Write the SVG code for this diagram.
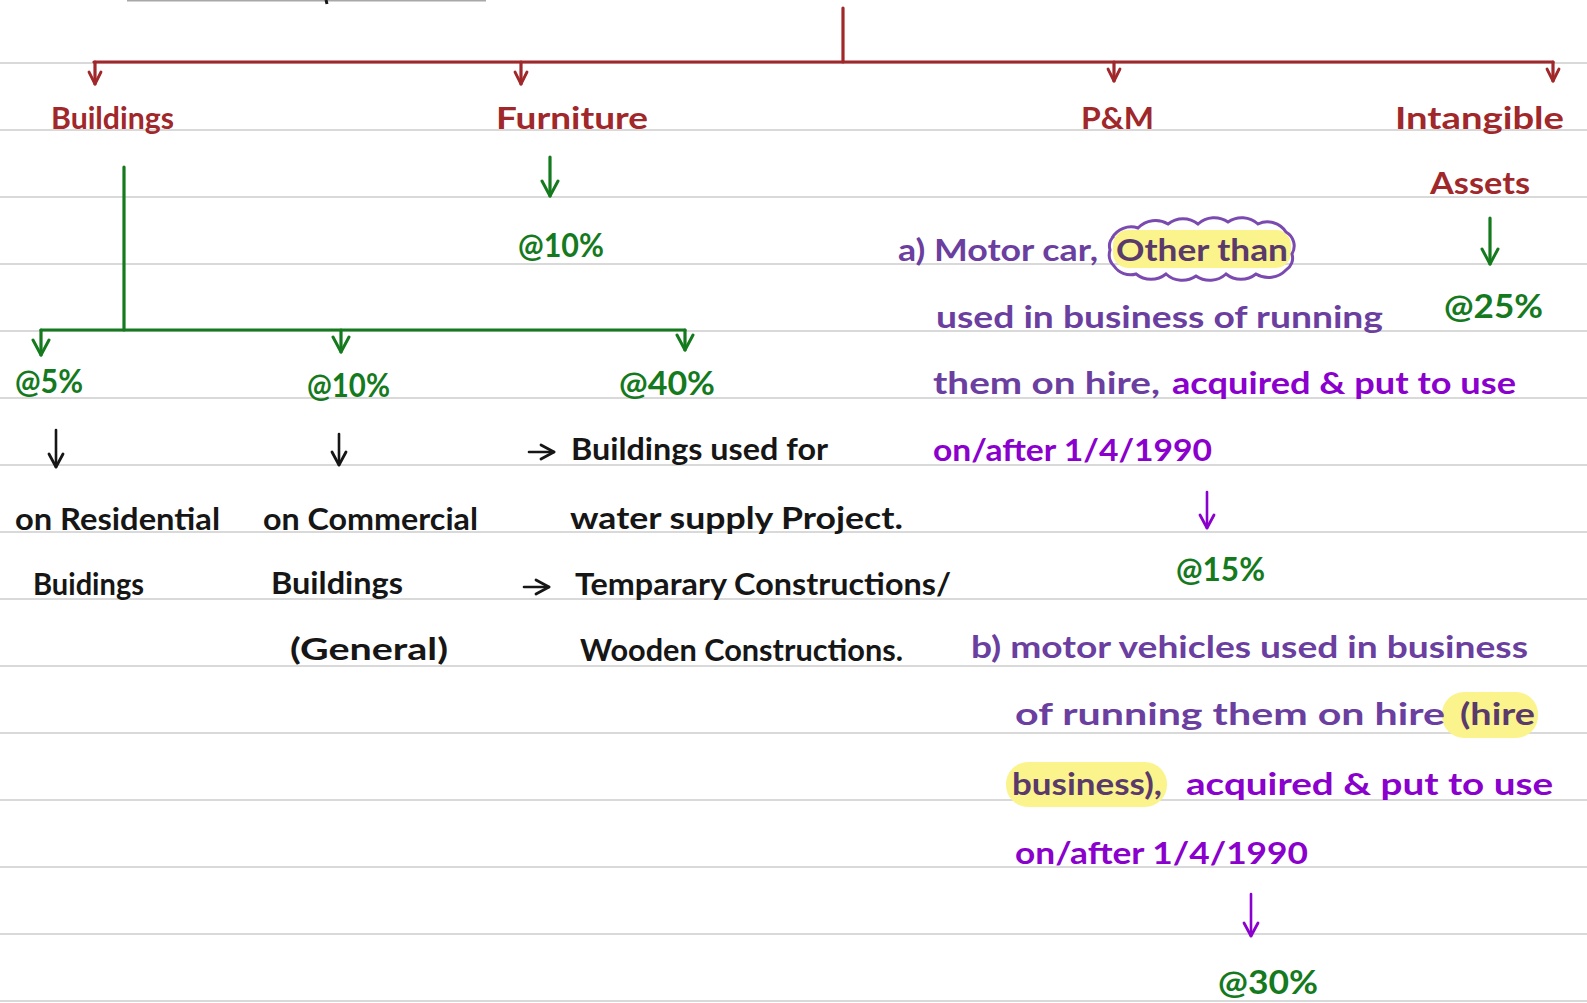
<svg xmlns="http://www.w3.org/2000/svg" width="1587" height="1003" viewBox="0 0 1587 1003">
<defs>
<marker id="arR" viewBox="0 0 16 16" refX="14" refY="8" markerWidth="16" markerHeight="16" markerUnits="userSpaceOnUse" orient="auto">
<path d="M2,2 L14,8 L2,14" fill="none" stroke="#a0272a" stroke-width="2.8" stroke-linecap="round" stroke-linejoin="round"/>
</marker>
<marker id="arG" viewBox="0 0 20 20" refX="17" refY="10" markerWidth="20" markerHeight="20" markerUnits="userSpaceOnUse" orient="auto">
<path d="M2,2 L17,10 L2,18" fill="none" stroke="#157a1e" stroke-width="3" stroke-linecap="round" stroke-linejoin="round"/>
</marker>
<marker id="arK" viewBox="0 0 18 18" refX="15" refY="9" markerWidth="18" markerHeight="18" markerUnits="userSpaceOnUse" orient="auto">
<path d="M2,2 L15,9 L2,16" fill="none" stroke="#161616" stroke-width="2.8" stroke-linecap="round" stroke-linejoin="round"/>
</marker>
<marker id="arP" viewBox="0 0 18 18" refX="15" refY="9" markerWidth="18" markerHeight="18" markerUnits="userSpaceOnUse" orient="auto">
<path d="M2,2 L15,9 L2,16" fill="none" stroke="#8a00cc" stroke-width="2.8" stroke-linecap="round" stroke-linejoin="round"/>
</marker>
</defs>
<style>
.rule{stroke:#d9d9d9;stroke-width:2}
text{font-family:"Lato","Noto Sans","DejaVu Sans",sans-serif;font-size:31px;font-weight:bold}
.red{fill:#a0272a}
.grn{fill:#157a1e;font-size:33px}
.blk{fill:#161616}
.pl{fill:#6b3fa0}
.pb{fill:#8a00cc}
.pd{fill:#5a3a6a}
.cr{stroke:#a0272a;stroke-width:3.2;fill:none;stroke-linecap:round}
.cg{stroke:#157a1e;stroke-width:3.2;fill:none;stroke-linecap:round}
.ck{stroke:#161616;stroke-width:2.6;fill:none;stroke-linecap:round}
.cp{stroke:#8a00cc;stroke-width:2.6;fill:none;stroke-linecap:round}
.hl{fill:#fbf48c}
</style>
<rect width="1587" height="1003" fill="#ffffff"/>
<g id="paper">
<line x1="127" y1="0.5" x2="486" y2="0.5" stroke="#a8a8a8" stroke-width="2"/>
<line x1="326" y1="0" x2="327" y2="4" stroke="#161616" stroke-width="3"/>
<line class="rule" x1="0" y1="63" x2="1587" y2="63"/>
<line class="rule" x1="0" y1="130" x2="1587" y2="130"/>
<line class="rule" x1="0" y1="197" x2="1587" y2="197"/>
<line class="rule" x1="0" y1="264" x2="1587" y2="264"/>
<line class="rule" x1="0" y1="331" x2="1587" y2="331"/>
<line class="rule" x1="0" y1="398" x2="1587" y2="398"/>
<line class="rule" x1="0" y1="465" x2="1587" y2="465"/>
<line class="rule" x1="0" y1="532" x2="1587" y2="532"/>
<line class="rule" x1="0" y1="599" x2="1587" y2="599"/>
<line class="rule" x1="0" y1="666" x2="1587" y2="666"/>
<line class="rule" x1="0" y1="733" x2="1587" y2="733"/>
<line class="rule" x1="0" y1="800" x2="1587" y2="800"/>
<line class="rule" x1="0" y1="867" x2="1587" y2="867"/>
<line class="rule" x1="0" y1="934" x2="1587" y2="934"/>
<line class="rule" x1="0" y1="1001" x2="1587" y2="1001"/>
</g>
<g id="connectors">
<line class="cr" x1="843" y1="8" x2="843" y2="62"/>
<line class="cr" x1="94" y1="62" x2="1553" y2="62"/>
<line class="cr" x1="95" y1="62" x2="95" y2="84" marker-end="url(#arR)"/>
<line class="cr" x1="521" y1="62" x2="521" y2="84" marker-end="url(#arR)"/>
<line class="cr" x1="1114" y1="62" x2="1114" y2="81" marker-end="url(#arR)"/>
<line class="cr" x1="1553" y1="62" x2="1553" y2="81" marker-end="url(#arR)"/>
<line class="cg" x1="550" y1="157" x2="550" y2="196" marker-end="url(#arG)"/>
<line class="cg" x1="124" y1="167" x2="124" y2="330"/>
<line class="cg" x1="41" y1="330" x2="685" y2="330"/>
<line class="cg" x1="41" y1="330" x2="41" y2="355" marker-end="url(#arG)"/>
<line class="cg" x1="341" y1="330" x2="341" y2="352" marker-end="url(#arG)"/>
<line class="cg" x1="685" y1="330" x2="685" y2="350" marker-end="url(#arG)"/>
<line class="cg" x1="1490" y1="218" x2="1490" y2="264" marker-end="url(#arG)"/>
<line class="ck" x1="56" y1="430" x2="56" y2="467" marker-end="url(#arK)"/>
<line class="ck" x1="339" y1="434" x2="339" y2="465" marker-end="url(#arK)"/>
<line class="ck" x1="529" y1="452" x2="554" y2="452" marker-end="url(#arK)"/>
<line class="ck" x1="524" y1="587" x2="549" y2="587" marker-end="url(#arK)"/>
<line class="cp" x1="1207" y1="492" x2="1207" y2="528" marker-end="url(#arP)"/>
<line class="cp" x1="1251" y1="894" x2="1251" y2="936" marker-end="url(#arP)"/>
</g>
<g id="buildings"><text class="red" x="51" y="129" textLength="123" lengthAdjust="spacingAndGlyphs">Buildings</text></g>
<g id="furniture"><text class="red" x="496" y="129" textLength="152" lengthAdjust="spacingAndGlyphs">Furniture</text></g>
<g id="pm"><text class="red" x="1081" y="129" textLength="73" lengthAdjust="spacingAndGlyphs">P&amp;M</text></g>
<g id="intangible"><text class="red" x="1395" y="129" textLength="169" lengthAdjust="spacingAndGlyphs">Intangible</text>
<text class="red" x="1430" y="194" textLength="100" lengthAdjust="spacingAndGlyphs">Assets</text></g>
<g id="furniture-rate"><text class="grn" x="518" y="257" textLength="86" lengthAdjust="spacingAndGlyphs">@10%</text></g>
<g id="intangible-rate"><text class="grn" x="1444" y="318" textLength="99" lengthAdjust="spacingAndGlyphs">@25%</text></g>
<g id="rate5"><text class="grn" x="15" y="393" textLength="68" lengthAdjust="spacingAndGlyphs">@5%</text></g>
<g id="rate10"><text class="grn" x="307" y="397" textLength="83" lengthAdjust="spacingAndGlyphs">@10%</text></g>
<g id="rate40"><text class="grn" x="619" y="395" textLength="96" lengthAdjust="spacingAndGlyphs">@40%</text></g>
<g id="residential">
<text class="blk" x="15" y="530" textLength="205" lengthAdjust="spacingAndGlyphs">on Residential</text>
<text class="blk" x="33" y="595" textLength="111" lengthAdjust="spacingAndGlyphs">Buidings</text>
</g>
<g id="commercial">
<text class="blk" x="263" y="530" textLength="215" lengthAdjust="spacingAndGlyphs">on Commercial</text>
<text class="blk" x="271" y="594" textLength="132" lengthAdjust="spacingAndGlyphs">Buildings</text>
<text class="blk" x="290" y="660" textLength="158" lengthAdjust="spacingAndGlyphs">(General)</text>
</g>
<g id="special">
<text class="blk" x="571" y="460" textLength="257" lengthAdjust="spacingAndGlyphs">Buildings used for</text>
<text class="blk" x="570" y="529" textLength="333" lengthAdjust="spacingAndGlyphs">water supply Project.</text>
<text class="blk" x="575" y="595" textLength="376" lengthAdjust="spacingAndGlyphs">Temparary Constructions/</text>
<text class="blk" x="580" y="661" textLength="323" lengthAdjust="spacingAndGlyphs">Wooden Constructions.</text>
</g>
<g id="pm-a">
<rect class="hl" x="1113" y="230" width="178" height="38" rx="15"/>
<path d="M1112,238 a22,22 0 0 1 26,-10 a24,24 0 0 1 30,-4 a24,24 0 0 1 30,0 a24,24 0 0 1 30,-2 a24,24 0 0 1 30,2 a22,22 0 0 1 28,8 a16,16 0 0 1 6,22 a14,14 0 0 1 -6,16 a24,24 0 0 1 -30,4 a24,24 0 0 1 -30,0 a24,24 0 0 1 -30,2 a24,24 0 0 1 -30,-2 a24,24 0 0 1 -30,0 a20,20 0 0 1 -22,-8 a16,16 0 0 1 -4,-16 a14,14 0 0 1 4,-14 z" fill="none" stroke="#7a4ab0" stroke-width="3"/>
<text class="pl" x="898" y="261" textLength="200" lengthAdjust="spacingAndGlyphs">a) Motor car,</text>
<text class="pd" x="1116" y="261" textLength="172" lengthAdjust="spacingAndGlyphs">Other than</text>
<text class="pl" x="936" y="328" textLength="447" lengthAdjust="spacingAndGlyphs">used in business of running</text>
<text class="pl" x="933" y="394" textLength="227" lengthAdjust="spacingAndGlyphs">them on hire,</text>
<text class="pb" x="1172" y="394" textLength="344" lengthAdjust="spacingAndGlyphs">acquired &amp; put to use</text>
<text class="pb" x="933" y="461" textLength="279" lengthAdjust="spacingAndGlyphs">on/after 1/4/1990</text>
<text class="grn" x="1176" y="581" textLength="89" lengthAdjust="spacingAndGlyphs">@15%</text>
</g>
<g id="pm-b">
<rect class="hl" x="1442" y="692" width="96" height="46" rx="22"/>
<rect class="hl" x="1006" y="762" width="161" height="45" rx="22"/>
<text class="pl" x="971" y="658" textLength="557" lengthAdjust="spacingAndGlyphs">b) motor vehicles used in business</text>
<text class="pl" x="1015" y="725" textLength="430" lengthAdjust="spacingAndGlyphs">of running them on hire</text>
<text class="pd" x="1460" y="725" textLength="75" lengthAdjust="spacingAndGlyphs">(hire</text>
<text class="pd" x="1012" y="795" textLength="150" lengthAdjust="spacingAndGlyphs">business),</text>
<text class="pb" x="1186" y="795" textLength="367" lengthAdjust="spacingAndGlyphs">acquired &amp; put to use</text>
<text class="pb" x="1015" y="864" textLength="293" lengthAdjust="spacingAndGlyphs">on/after 1/4/1990</text>
<text class="grn" x="1218" y="994" textLength="100" lengthAdjust="spacingAndGlyphs">@30%</text>
</g>
</svg>
